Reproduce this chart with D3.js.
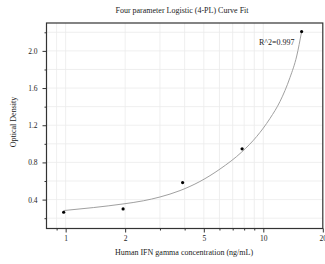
<!DOCTYPE html>
<html><head><meta charset="utf-8">
<script src="https://cdn.jsdelivr.net/npm/d3@7"></script>
<style>body{margin:0;background:#fff}svg{display:block}text{font-family:"Liberation Serif","Times New Roman",serif;fill:#222}</style>
</head><body>
<script>
// standard concentrations (ng/mL) and measured OD
const concentrations = [0.977, 1.953, 3.906, 7.8125, 15.625];
const odValues = [0.264, 0.300, 0.583, 0.946, 2.208];
// fitted 4-PL curve
const curveX = [0.977, 1.38, 1.95, 2.47, 3.0, 3.79, 4.78, 6.04, 7.78, 9.26, 10.81, 12.15, 13.65, 14.76, 15.625];
const curveY = [0.282, 0.314, 0.353, 0.387, 0.428, 0.497, 0.595, 0.729, 0.912, 1.079, 1.273, 1.456, 1.714, 1.945, 2.208];
const xMajorTicks = [1, 2, 5, 10, 20];
const xMinorTicks = [0.9, 3, 4, 6, 7, 8, 9];
const yMajorTicks = [0.4, 0.8, 1.2, 1.6, 2.0];
const yMinorTicks = [0.2, 0.6, 1.0, 1.4, 1.8, 2.2];
const title = "Four parameter Logistic (4-PL) Curve Fit";
const xTitle = "Human IFN gamma concentration (ng/mL)";
const yTitle = "Optical Density";
const r2Label = "R^2=0.997";

const W = 325, H = 264;
const m = {l: 46.5, r: 2.2, t: 23, b: 35.5};
const svg = d3.select("body").append("svg").attr("width", W).attr("height", H);
const x = d3.scaleLog().domain([0.8, 20]).range([m.l, W - m.r]);
const y = d3.scaleLinear().domain([0.089, 2.3]).range([H - m.b, m.t]);

// grid
const g = svg.append("g");
const allX = xMajorTicks.concat(xMinorTicks).filter(v => v < 20);
g.selectAll(".gx").data(allX).join("line")
  .attr("x1", d => x(d)).attr("x2", d => x(d)).attr("y1", m.t).attr("y2", H - m.b)
  .attr("stroke", "#ebebeb").attr("stroke-width", 0.8);
const allY = yMajorTicks.concat(yMinorTicks);
g.selectAll(".gy").data(allY).join("line")
  .attr("y1", d => y(d)).attr("y2", d => y(d)).attr("x1", m.l).attr("x2", W - m.r)
  .attr("stroke", "#ebebeb").attr("stroke-width", 0.8);

// axes
function styleAxis(sel) {
  sel.select(".domain").remove();
  sel.selectAll("line").attr("stroke", "#333").attr("stroke-width", 1);
  sel.selectAll("text").style("font-size", "7.5px").attr("fill", "#222");
}
const xAxis = svg.append("g").attr("transform", `translate(0,${H - m.b})`)
  .call(d3.axisBottom(x).tickValues(xMajorTicks).tickFormat(d3.format("d")).tickSize(4).tickPadding(3));
styleAxis(xAxis);
const xMinor = svg.append("g").attr("transform", `translate(0,${H - m.b})`)
  .call(d3.axisBottom(x).tickValues(xMinorTicks).tickFormat("").tickSize(2));
styleAxis(xMinor);
const yAxis = svg.append("g").attr("transform", `translate(${m.l},0)`)
  .call(d3.axisLeft(y).tickValues(yMajorTicks).tickFormat(d3.format(".1f")).tickSize(4).tickPadding(5));
styleAxis(yAxis);
const yMinor = svg.append("g").attr("transform", `translate(${m.l},0)`)
  .call(d3.axisLeft(y).tickValues(yMinorTicks).tickFormat("").tickSize(2));
styleAxis(yMinor);

// frame
svg.append("rect").attr("x", m.l).attr("y", m.t).attr("width", W - m.r - m.l).attr("height", H - m.b - m.t)
  .attr("fill", "none").attr("stroke", "#333").attr("stroke-width", 1.2);

// curve
const line = d3.line().x(d => x(d[0])).y(d => y(d[1])).curve(d3.curveMonotoneX);
svg.append("path").datum(d3.zip(curveX, curveY)).attr("d", line)
  .attr("fill", "none").attr("stroke", "#a0a0a0").attr("stroke-width", 1);

// points
svg.selectAll(".pt").data(d3.zip(concentrations, odValues)).join("circle")
  .attr("cx", d => x(d[0])).attr("cy", d => y(d[1])).attr("r", 1.6).attr("fill", "#000");

// texts
svg.append("text").attr("x", 182).attr("y", 13).attr("text-anchor", "middle").style("font-size", "8px").text(title);
svg.append("text").attr("x", 184).attr("y", 255).attr("text-anchor", "middle").style("font-size", "8px").text(xTitle);
svg.append("text").attr("transform", "translate(16,122) rotate(-90)").attr("text-anchor", "middle").style("font-size", "8px").text(yTitle);
svg.append("text").attr("x", 259).attr("y", 44.5).style("font-size", "8px").text(r2Label);
</script>
</body></html>
